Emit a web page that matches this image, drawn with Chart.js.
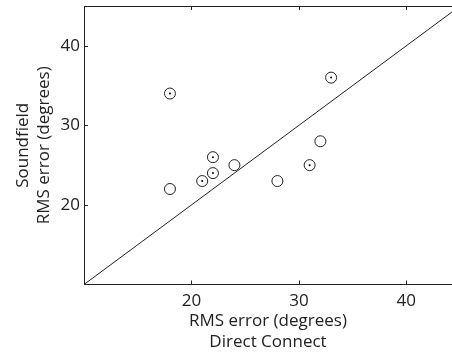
<!DOCTYPE html>
<html>
<head>
<meta charset="utf-8">
<script src="https://cdn.jsdelivr.net/npm/chart.js@4/dist/chart.umd.min.js"></script>
<style>
  html, body { margin: 0; padding: 0; background: #fff; }
</style>
</head>
<body>
<canvas id="rmsChart" width="452" height="353"></canvas>
<script>
// RMS error per subject: direct connect (x) vs soundfield (y)
const directConnect = [18, 22, 22, 21, 31, 33, 18, 24, 28, 32];
const soundfield    = [34, 26, 24, 23, 25, 36, 22, 25, 23, 28];
const hasDot        = [true, true, true, true, true, true, false, false, false, false];
const diagonal = [10, 45];
const xTicks = [20, 30, 40];
const yTicks = [20, 30, 40];
const xTitle = ['RMS error (degrees)', 'Direct Connect'];
const yTitle = ['Soundfield', 'RMS error (degrees)'];

const ink = '#222';
const fontFam = "'Open Sans', sans-serif";

const points = directConnect.map((x, i) => ({x: x, y: soundfield[i]}));
const dotted = points.filter((p, i) => hasDot[i]);

// box top edge + inward tick marks
const frame = {
  id: 'frame',
  afterDraw(chart) {
    const ctx = chart.ctx;
    const a = chart.chartArea;
    const xs = chart.scales.x, ys = chart.scales.y;
    ctx.save();
    ctx.strokeStyle = ink;
    ctx.lineWidth = 1;
    ctx.beginPath();
    ctx.moveTo(a.left, a.top + 0.5);
    ctx.lineTo(a.right, a.top + 0.5);
    xTicks.forEach(v => {
      const px = Math.round(xs.getPixelForValue(v)) + 0.5;
      ctx.moveTo(px, a.bottom);
      ctx.lineTo(px, a.bottom - 4);
      ctx.moveTo(px, a.top);
      ctx.lineTo(px, a.top + 4);
    });
    yTicks.forEach(v => {
      const py = Math.round(ys.getPixelForValue(v)) + 0.5;
      ctx.moveTo(a.left, py);
      ctx.lineTo(a.left + 4, py);
    });
    ctx.stroke();
    ctx.restore();
  }
};

new Chart(document.getElementById('rmsChart'), {
  type: 'scatter',
  data: {
    datasets: [
      {
        data: diagonal.map(v => ({x: v, y: v})),
        showLine: true,
        borderColor: ink,
        borderWidth: 1,
        pointRadius: 0,
        order: 3
      },
      {
        data: points,
        pointRadius: 5.5,
        pointBorderWidth: 1,
        pointBorderColor: ink,
        pointBackgroundColor: 'rgba(0,0,0,0)',
        order: 2
      },
      {
        data: dotted,
        pointRadius: 1,
        pointBorderWidth: 0,
        pointBackgroundColor: '#000',
        order: 1
      }
    ]
  },
  options: {
    responsive: false,
    animation: false,
    layout: { autoPadding: false, padding: { top: 6, right: 0, left: 0, bottom: 0 } },
    plugins: { legend: { display: false }, tooltip: { enabled: false } },
    scales: {
      x: {
        type: 'linear',
        min: 10,
        max: 44.25,
        afterBuildTicks: s => { s.ticks = xTicks.map(v => ({value: v})); },
        afterFit: s => { s.height = 68.5; s.paddingLeft = 0; s.paddingRight = 0; },
        grid: { display: true, drawOnChartArea: false, drawTicks: false },
        border: { display: true, color: ink, width: 1 },
        ticks: { color: ink, padding: 6, font: { family: fontFam, size: 17 } },
        title: {
          display: true,
          text: xTitle,
          color: ink,
          padding: { top: 0, bottom: 0 },
          font: { family: fontFam, size: 17, lineHeight: 1.265 }
        }
      },
      y: {
        type: 'linear',
        min: 10,
        max: 45,
        afterBuildTicks: s => { s.ticks = yTicks.map(v => ({value: v})); },
        afterFit: s => { s.width = 84; s.paddingTop = 0; s.paddingBottom = 0; },
        grid: { display: true, drawOnChartArea: false, drawTicks: false },
        border: { display: true, color: ink, width: 1 },
        ticks: { color: ink, padding: 4, font: { family: fontFam, size: 17 } },
        title: {
          display: true,
          text: yTitle,
          color: ink,
          padding: { top: 12, bottom: 0 },
          font: { family: fontFam, size: 17, lineHeight: 1.265 }
        }
      }
    }
  },
  plugins: [frame]
});
</script>
</body>
</html>
